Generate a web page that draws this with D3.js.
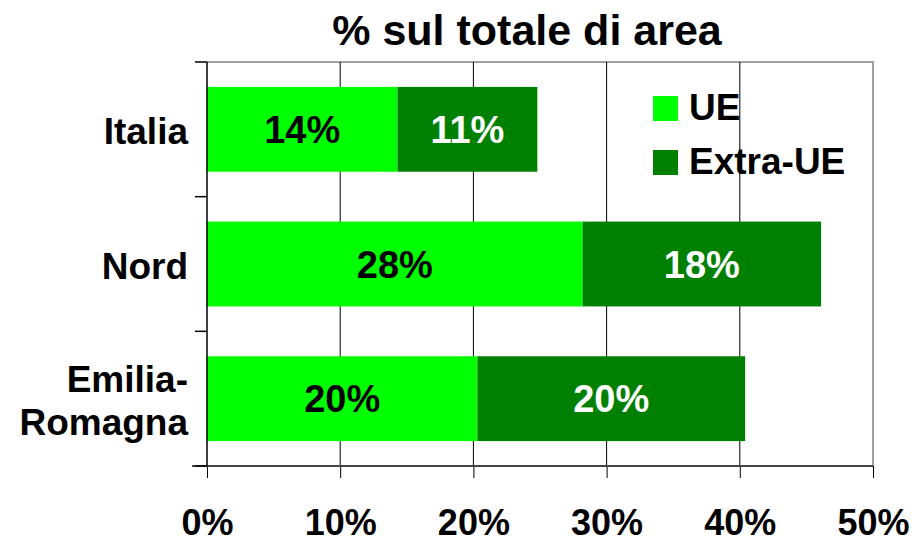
<!DOCTYPE html>
<html>
<head>
<meta charset="utf-8">
<script src="https://cdn.jsdelivr.net/npm/d3@7"></script>
<style>
  body { margin: 0; background: #fff; }
  text { font-family: "Liberation Sans", Arial, sans-serif; font-weight: bold; }
</style>
</head>
<body>
<div id="chart"></div>
<script>
const categories = ['Italia', 'Nord', 'Emilia-Romagna'];
const categoryLines = [['Italia'], ['Nord'], ['Emilia-', 'Romagna']];
const ueValues = [14.3, 28.2, 20.3];
const extraValues = [10.5, 17.9, 20.1];
const ueLabels = ['14%', '28%', '20%'];
const extraLabels = ['11%', '18%', '20%'];
const tickValues = [0, 10, 20, 30, 40, 50];
const seriesNames = ['UE', 'Extra-UE'];
const seriesColors = ['#00ff00', '#008000'];

const width = 917, height = 538;
const margin = { left: 207, right: 44, top: 62, bottom: 72 };

const svg = d3.select('#chart').append('svg')
    .attr('width', width)
    .attr('height', height);

const x = d3.scaleLinear().domain([0, 50]).range([margin.left, width - margin.right]);
const y = d3.scaleBand().domain(categories)
    .range([margin.top, height - margin.bottom])
    .paddingInner(0.37).paddingOuter(0.185);

// title
svg.append('text')
    .attr('x', 527).attr('y', 45)
    .attr('text-anchor', 'middle')
    .style('font-size', '43px')
    .text('% sul totale di area');

// plot border (top/right gray)
svg.append('path')
    .attr('d', `M${x(0)},${margin.top}H${x(50)}V${height - margin.bottom}`)
    .attr('fill', 'none')
    .attr('stroke', '#a0a0a0')
    .attr('stroke-width', 2);

// gridlines
svg.append('g').selectAll('line')
    .data(tickValues.slice(1, -1))
    .enter().append('line')
    .attr('x1', d => x(d)).attr('x2', d => x(d))
    .attr('y1', margin.top).attr('y2', height - margin.bottom)
    .attr('stroke', '#000').attr('stroke-width', 1);

// bars
const rows = svg.append('g').selectAll('g')
    .data(categories)
    .enter().append('g');

rows.append('rect')
    .attr('x', x(0))
    .attr('y', d => y(d))
    .attr('width', (d, i) => x(ueValues[i]) - x(0))
    .attr('height', y.bandwidth())
    .attr('fill', seriesColors[0]);

rows.append('rect')
    .attr('x', (d, i) => x(ueValues[i]))
    .attr('y', d => y(d))
    .attr('width', (d, i) => x(ueValues[i] + extraValues[i]) - x(ueValues[i]))
    .attr('height', y.bandwidth())
    .attr('fill', seriesColors[1]);

rows.append('text')
    .attr('x', (d, i) => x(ueValues[i] / 2))
    .attr('y', d => y(d) + y.bandwidth() / 2 + 13.5)
    .attr('text-anchor', 'middle')
    .style('font-size', '38px')
    .attr('fill', '#000')
    .text((d, i) => ueLabels[i]);

rows.append('text')
    .attr('x', (d, i) => x(ueValues[i] + extraValues[i] / 2))
    .attr('y', d => y(d) + y.bandwidth() / 2 + 13.5)
    .attr('text-anchor', 'middle')
    .style('font-size', '38px')
    .attr('fill', '#fff')
    .text((d, i) => extraLabels[i]);

// x axis
const xAxis = svg.append('g')
    .attr('transform', `translate(0,${height - margin.bottom})`)
    .call(d3.axisBottom(x).tickValues(tickValues).tickSize(12).tickFormat(d => d + '%'));
xAxis.select('.domain').remove();
xAxis.selectAll('line').attr('stroke', '#000');
xAxis.selectAll('text')
    .attr('dy', 0).attr('y', 69)
    .style('font-size', '36px')
    .attr('fill', '#000');
svg.append('line')
    .attr('x1', 192).attr('x2', x(50))
    .attr('y1', height - margin.bottom).attr('y2', height - margin.bottom)
    .attr('stroke', '#444').attr('stroke-width', 2);

// y axis line and ticks at category boundaries
svg.append('line')
    .attr('x1', x(0)).attr('x2', x(0))
    .attr('y1', margin.top).attr('y2', height - margin.bottom)
    .attr('stroke', '#000').attr('stroke-width', 1.5);
const plotH = height - margin.bottom - margin.top;
svg.append('g').selectAll('line')
    .data(d3.range(categories.length + 1))
    .enter().append('line')
    .attr('x1', 195).attr('x2', x(0))
    .attr('y1', i => margin.top + i * plotH / categories.length)
    .attr('y2', i => margin.top + i * plotH / categories.length)
    .attr('stroke', '#000').attr('stroke-width', 1.5);

// category labels
const catText = svg.append('g').selectAll('text')
    .data(categories)
    .enter().append('text')
    .attr('text-anchor', 'end')
    .style('font-size', '37px')
    .attr('x', 188)
    .attr('y', (d, i) => y(d) + y.bandwidth() / 2 + 15 - (categoryLines[i].length - 1) * 21.5);
catText.selectAll('tspan')
    .data((d, i) => categoryLines[i])
    .enter().append('tspan')
    .attr('x', 188)
    .attr('dy', (d, i) => i === 0 ? 0 : 43)
    .text(d => d);

// legend
const legend = svg.append('g').selectAll('g')
    .data(seriesNames)
    .enter().append('g')
    .attr('transform', (d, i) => `translate(653,${96 + i * 54})`);
legend.append('rect')
    .attr('width', 25).attr('height', 25)
    .attr('fill', (d, i) => seriesColors[i]);
legend.append('text')
    .attr('x', 36).attr('y', 24)
    .style('font-size', '37px')
    .text(d => d);
</script>
</body>
</html>
